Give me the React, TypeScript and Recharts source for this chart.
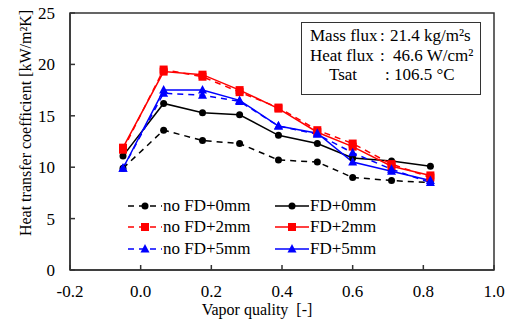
import React from "react";
import { LineChart, Line, XAxis, YAxis, Legend, ReferenceArea, Label } from "recharts";

const quality = [-0.05, 0.065, 0.175, 0.28, 0.39, 0.5, 0.6, 0.71, 0.82];
const noFd0 = [9.9, 13.6, 12.6, 12.3, 10.7, 10.5, 9.0, 8.7, 8.5];
const fd0 = [11.1, 16.2, 15.3, 15.1, 13.1, 12.3, 10.9, 10.6, 10.1];
const noFd2 = [11.7, 19.5, 18.8, 17.3, 15.8, 13.6, 12.3, 10.3, 9.0];
const fd2 = [11.9, 19.3, 19.0, 17.5, 15.7, 13.4, 12.0, 10.1, 9.2];
const noFd5 = [9.9, 17.2, 17.0, 16.4, 14.0, 13.2, 11.4, 9.8, 8.5];
const fd5 = [9.9, 17.5, 17.5, 16.5, 14.0, 13.3, 10.5, 9.6, 8.7];

const xTicks = [-0.2, 0, 0.2, 0.4, 0.6, 0.8, 1.0];
const yTicks = [0, 5, 10, 15, 20, 25];

const FONT = "'Liberation Serif', 'Times New Roman', serif";

type Shape = "circle" | "square" | "triangle";

const SERIES: { key: string; name: string; color: string; dashed: boolean; shape: Shape }[] = [
  { key: "noFd0", name: "no FD+0mm", color: "#000000", dashed: true, shape: "circle" },
  { key: "fd0", name: "FD+0mm", color: "#000000", dashed: false, shape: "circle" },
  { key: "noFd2", name: "no FD+2mm", color: "#ff0000", dashed: true, shape: "square" },
  { key: "fd2", name: "FD+2mm", color: "#ff0000", dashed: false, shape: "square" },
  { key: "noFd5", name: "no FD+5mm", color: "#0000ff", dashed: true, shape: "triangle" },
  { key: "fd5", name: "FD+5mm", color: "#0000ff", dashed: false, shape: "triangle" },
];

const data = quality.map((q, i) => ({
  q,
  noFd0: noFd0[i],
  fd0: fd0[i],
  noFd2: noFd2[i],
  fd2: fd2[i],
  noFd5: noFd5[i],
  fd5: fd5[i],
}));

function Marker({ shape, color, cx, cy }: { shape: Shape; color: string; cx: number; cy: number }) {
  if (shape === "circle") return <circle cx={cx} cy={cy} r={3.5} fill={color} />;
  if (shape === "square")
    return <rect x={cx - 4} y={cy - 4} width={8} height={8} fill={color} />;
  return (
    <polygon
      points={`${cx},${cy - 5} ${cx - 4.5},${cy + 3.5} ${cx + 4.5},${cy + 3.5}`}
      fill={color}
    />
  );
}

const dotFor = (shape: Shape, color: string, id: string) => (props: any) => {
  const { cx, cy, index } = props;
  if (cx == null || cy == null) return <g key={`${id}-${index}`} />;
  return (
    <g key={`${id}-${index}`}>
      <Marker shape={shape} color={color} cx={cx} cy={cy} />
    </g>
  );
};

const CustomLegend = () => (
  <div
    style={{
      display: "grid",
      gridTemplateColumns: "147px 147px",
      fontFamily: FONT,
      fontSize: 17,
      color: "#000",
    }}
  >
    {SERIES.map((s) => (
      <div key={s.key} style={{ display: "flex", alignItems: "center", height: 21.5 }}>
        <svg width={34} height={12} style={{ flex: "none" }}>
          <line
            x1={0}
            y1={6}
            x2={34}
            y2={6}
            stroke={s.color}
            strokeWidth={1.5}
            strokeDasharray={s.dashed ? "6 5" : undefined}
          />
          <Marker shape={s.shape} color={s.color} cx={17} cy={6} />
        </svg>
        <span style={{ marginLeft: 1, whiteSpace: "nowrap" }}>{s.name}</span>
      </div>
    ))}
  </div>
);

const rowStyle: React.CSSProperties = { position: "relative", height: 19.5 };

function InfoBox() {
  return (
    <div
      style={{
        position: "absolute",
        left: 301,
        top: 22,
        width: 178,
        height: 68,
        border: "1.5px solid #333",
        background: "#fff",
        fontFamily: FONT,
        fontSize: 17,
        lineHeight: "19.5px",
        paddingTop: 3,
        boxSizing: "content-box",
      }}
    >
      <div style={rowStyle}>
        <span style={{ position: "absolute", left: 8 }}>Mass flux</span>
        <span style={{ position: "absolute", left: 78 }}>:</span>
        <span style={{ position: "absolute", left: 88 }}>21.4 kg/m²s</span>
      </div>
      <div style={rowStyle}>
        <span style={{ position: "absolute", left: 8 }}>Heat flux</span>
        <span style={{ position: "absolute", left: 78 }}>:</span>
        <span style={{ position: "absolute", left: 91 }}>46.6 W/cm²</span>
      </div>
      <div style={rowStyle}>
        <span style={{ position: "absolute", left: 27 }}>Tsat</span>
        <span style={{ position: "absolute", left: 83 }}>:</span>
        <span style={{ position: "absolute", left: 92 }}>106.5 °C</span>
      </div>
    </div>
  );
}

export default function App() {
  return (
    <div style={{ position: "absolute", left: 0, top: 0, width: 514, height: 320, background: "#fff" }}>
      <LineChart
        width={514}
        height={320}
        data={data}
        margin={{ top: 13, right: 20, left: 10, bottom: 0 }}
        style={{ fontFamily: FONT }}
      >
        <ReferenceArea
          x1={-0.2}
          x2={1.0}
          y1={0}
          y2={25}
          fill="none"
          stroke="#333"
          strokeWidth={1.5}
        />
        <XAxis
          dataKey="q"
          type="number"
          domain={[-0.2, 1.0]}
          ticks={xTicks}
          interval={0}
          tickFormatter={(v: number) => v.toFixed(1)}
          tick={{ fill: "#000", fontSize: 17, fontFamily: FONT }}
          tickSize={-5}
          tickMargin={20}
          tickLine={{ stroke: "#333", strokeWidth: 1.5 }}
          axisLine={{ stroke: "#333", strokeWidth: 1.5 }}
          height={50}
        >
          <Label
            content={() => (
              <text x={257} y={309} textAnchor="middle" dominantBaseline="central" fontSize={16} fontFamily={FONT} fill="#000">
                {"Vapor quality\u00a0 [-]"}
              </text>
            )}
          />
        </XAxis>
        <YAxis
          type="number"
          domain={[0, 25]}
          ticks={yTicks}
          interval={0}
          tick={{ fill: "#000", fontSize: 17, fontFamily: FONT }}
          tickSize={-5}
          tickMargin={20}
          tickLine={{ stroke: "#333", strokeWidth: 1.5 }}
          axisLine={{ stroke: "#333", strokeWidth: 1.5 }}
          width={60}
        >
          <Label
            content={() => (
              <text
                x={25}
                y={123}
                transform="rotate(-90 25 123)"
                textAnchor="middle"
                dominantBaseline="central"
                fontSize={16}
                fontFamily={FONT}
                fill="#000"
              >
                Heat transfer coefficient [kW/m²K]
              </text>
            )}
          />
        </YAxis>
        <Legend
          layout="horizontal"
          verticalAlign="middle"
          align="center"
          content={<CustomLegend />}
          wrapperStyle={{ left: 128, top: 195, width: 300, height: 66 }}
        />
        {SERIES.map((s) => (
          <Line
            key={s.key}
            dataKey={s.key}
            name={s.name}
            type="linear"
            stroke={s.color}
            strokeWidth={1.5}
            strokeDasharray={s.dashed ? "6 5" : undefined}
            dot={dotFor(s.shape, s.color, s.key)}
            activeDot={false}
            isAnimationActive={false}
          />
        ))}
      </LineChart>
      <InfoBox />
    </div>
  );
}
